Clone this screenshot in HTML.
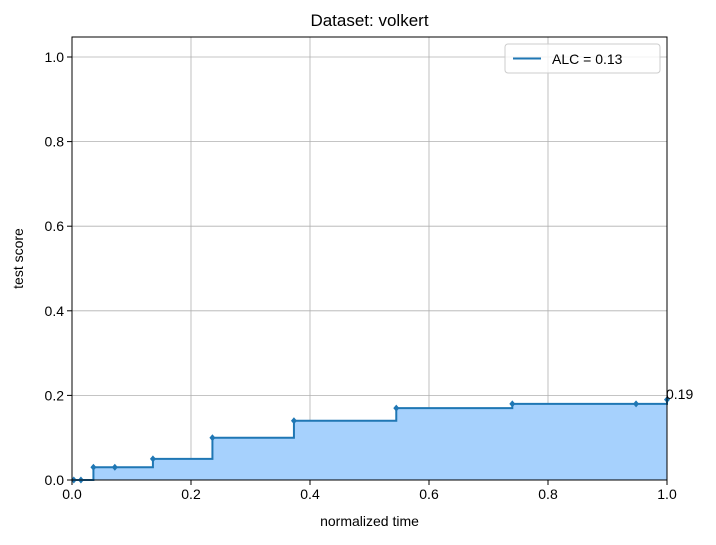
<!DOCTYPE html>
<html><head><meta charset="utf-8"><style>
body{margin:0;background:#fff;font-family:"Liberation Sans","DejaVu Sans",sans-serif;}
</style></head><body>
<svg id="chart" width="716" height="540" xmlns="http://www.w3.org/2000/svg" font-family="Liberation Sans, DejaVu Sans, sans-serif">
</svg>
<script>
const xs = [0.003, 0.015, 0.036, 0.072, 0.136, 0.236, 0.373, 0.545, 0.74, 0.948, 1.0];
const ys = [0.0, 0.0, 0.03, 0.03, 0.05, 0.10, 0.14, 0.17, 0.18, 0.18, 0.19];
const xTicks = [0, 0.2, 0.4, 0.6, 0.8, 1.0];
const yTicks = [0, 0.2, 0.4, 0.6, 0.8, 1.0];
const tickLabels = ["0.0", "0.2", "0.4", "0.6", "0.8", "1.0"];
const legendLabel = "ALC = 0.13";
const lastLabel = "0.19";

const L=72,R=667,T=37,B=480;
const X=v=>L+(R-L)*v;
const Y=v=>B-(B-57)/1.0*v;
const svg=document.getElementById('chart');
const NS='http://www.w3.org/2000/svg';
function mk(tag,attrs,parent){const e=document.createElementNS(NS,tag);for(const k in attrs)e.setAttribute(k,attrs[k]);(parent||svg).appendChild(e);return e;}

xTicks.forEach((t,i)=>{
  const g=mk('line',{x1:X(t),x2:X(t),y1:T,y2:B,stroke:'#b0b0b0','stroke-width':0.8});
  
  
});
yTicks.forEach((t,i)=>{
  const g=mk('line',{x1:L,x2:R,y1:Y(t),y2:Y(t),stroke:'#b0b0b0','stroke-width':0.8});
  
  
});

let d=`M${X(xs[0])},${Y(ys[0])}`;
for(let i=1;i<xs.length;i++){d+=` L${X(xs[i])},${Y(ys[i-1])} L${X(xs[i])},${Y(ys[i])}`;}
const area=mk('path',{d:d+` L${X(xs[xs.length-1])},${Y(0)} L${X(xs[0])},${Y(0)} Z`,fill:'#a6d1fd',stroke:'none'});


const line=mk('path',{d:d,fill:'none',stroke:'#1f77b4','stroke-width':2});


xs.forEach((x,i)=>{
  const cx=X(x),cy=Y(ys[i]);
  const m=mk('path',{d:`M${cx},${cy-3.5} L${cx+3},${cy} L${cx},${cy+3.5} L${cx-3},${cy} Z`,fill:'#1f77b4'});
  
  
});
const lt=mk('text',{x:X(1.0)-1,y:Y(ys[ys.length-1])-0.5,'font-size':14,fill:'#000'});
lt.textContent=lastLabel;



const fr=mk('rect',{x:L,y:T,width:R-L,height:B-T,fill:'none',stroke:'#000','stroke-width':1});



xTicks.forEach((t,i)=>{
  mk('line',{x1:X(t),x2:X(t),y1:B,y2:B+5,stroke:'#000'});
  const tx=mk('text',{x:X(t),y:B+19,'font-size':14,'text-anchor':'middle'});
  tx.textContent=tickLabels[i];
  
  
});
yTicks.forEach((t,i)=>{
  mk('line',{x1:L-5,x2:L,y1:Y(t),y2:Y(t),stroke:'#000'});
  const tx=mk('text',{x:L-8,y:Y(t)+5,'font-size':14,'text-anchor':'end'});
  tx.textContent=tickLabels[i];
  
  
});

const title=mk('text',{x:(L+R)/2,y:26,'font-size':17,'text-anchor':'middle'});
title.textContent='Dataset: volkert';


const xt=mk('text',{x:(L+R)/2,y:526,'font-size':14,'text-anchor':'middle'});
xt.textContent='normalized time';


const yt=mk('text',{x:0,y:0,'font-size':14,'text-anchor':'middle',transform:`translate(23,${(T+B)/2}) rotate(-90)`});
yt.textContent='test score';



const lg=mk('g',{});


mk('rect',{x:505,y:44,width:155,height:29,rx:3,fill:'#fff','fill-opacity':0.8,stroke:'#ccc'},lg);
mk('line',{x1:513,x2:541,y1:58.5,y2:58.5,stroke:'#1f77b4','stroke-width':2},lg);
const lgt=mk('text',{x:552,y:64,'font-size':14},lg);
lgt.textContent=legendLabel;


</script>
</body></html>
